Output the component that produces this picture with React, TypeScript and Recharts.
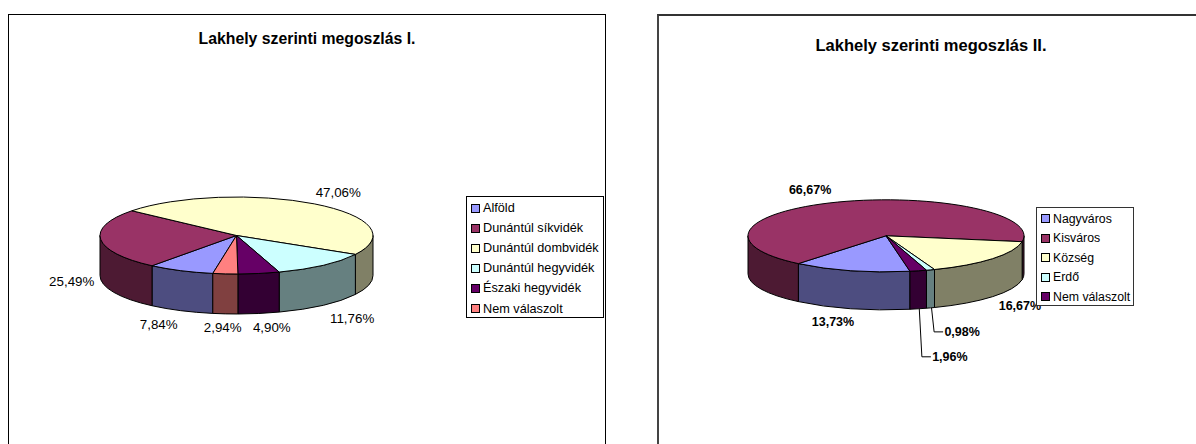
import { PieChart, Pie, Legend } from "recharts";

const namesI = ["Alföld", "Dunántúl síkvidék", "Dunántúl dombvidék", "Dunántúl hegyvidék", "Északi hegyvidék", "Nem válaszolt"];
const valuesI = [7.84, 25.49, 47.06, 11.76, 4.9, 2.94];
const coloursI = ["#9999FF", "#993366", "#FFFFCC", "#CCFFFF", "#660066", "#FF8080"];

const namesII = ["Nagyváros", "Kisváros", "Község", "Erdő", "Nem válaszolt"];
const valuesII = [13.73, 66.67, 16.67, 0.98, 1.96];
const coloursII = ["#9999FF", "#993366", "#FFFFCC", "#CCFFFF", "#660066"];

// label offsets from the rim point of each slice
const labelShiftI = [[-22, 54], [-29, 42.5], [24, -11], [29, 53], [13, 54.5], [-2.6, 54]];
const labelShiftII = [[-18, 51.4], [-27.4, -12], [27.3, 47.3], [31.6, 62], [31.6, 86]];
const leadersII = [false, false, false, true, true];

const FONT = "'Liberation Sans', Arial, sans-serif";
const RAD = Math.PI / 180;
const NO_MARGIN = { top: 0, right: 0, bottom: 0, left: 0 };

const darken = (hex: string) => {
  const n = parseInt(hex.slice(1), 16);
  const half = (v: number) => Math.round(v / 2);
  return `rgb(${half((n >> 16) & 255)},${half((n >> 8) & 255)},${half(n & 255)})`;
};

// the pie hands us circular angles, these squash them to the tilted ellipse
const rim = (cx: number, cy: number, rx: number, ry: number, a: number) => ({
  x: cx + rx * Math.cos(a * RAD),
  y: cy - ry * Math.sin(a * RAD),
});

const topShape = (ry: number) => (p: any) => {
  const rx = p.outerRadius;
  const s = rim(p.cx, p.cy, rx, ry, p.startAngle);
  const e = rim(p.cx, p.cy, rx, ry, p.endAngle);
  const large = Math.abs(p.startAngle - p.endAngle) > 180 ? 1 : 0;
  return (
    <path
      d={`M${p.cx},${p.cy}L${s.x},${s.y}A${rx},${ry} 0 ${large} 1 ${e.x},${e.y}Z`}
      fill={p.fill}
      stroke="#000"
      strokeWidth={1}
    />
  );
};

const wallShape = (ry: number, depth: number) => (p: any) => {
  const rx = p.outerRadius;
  const parts: string[] = [];
  // only the front half of the rim is visible
  for (const [hi, lo] of [[0, -180], [-360, -540]]) {
    const from = Math.min(p.startAngle, hi);
    const to = Math.max(p.endAngle, lo);
    if (from <= to) continue;
    const s = rim(p.cx, p.cy, rx, ry, from);
    const e = rim(p.cx, p.cy, rx, ry, to);
    parts.push(
      `M${s.x},${s.y}A${rx},${ry} 0 0 1 ${e.x},${e.y}L${e.x},${e.y + depth}A${rx},${ry} 0 0 0 ${s.x},${s.y + depth}Z`
    );
  }
  return <path d={parts.join("")} fill={darken(p.fill)} stroke="#000" strokeWidth={1} />;
};

const percentLabel = (ry: number, depth: number, shifts: number[][], weight: string, size: number, leaders?: boolean[]) => (p: any) => {
  const a = rim(p.cx, p.cy, p.outerRadius, ry, p.midAngle);
  const [dx, dy] = shifts[p.index];
  const x = a.x + dx;
  const y = a.y + dy;
  const text = p.value.toFixed(2).replace(".", ",") + "%";
  return (
    <g>
      {leaders && leaders[p.index] && (
        <polyline
          points={`${a.x + 1},${a.y + depth} ${x - 28},${y} ${x - 19},${y}`}
          fill="none"
          stroke="#000"
          strokeWidth={1}
        />
      )}
      <text x={x} y={y} textAnchor="middle" dominantBaseline="central" fontFamily={FONT} fontSize={size} fontWeight={weight} fill="#000">
        {text}
      </text>
    </g>
  );
};

const legendBox = (names: string[], fontSize: number, rowHeight: number, border: string) => (props: any) => {
  // the two pie layers both report their slices, keep one of each in data order
  const rows = names.map((n) => props.payload.find((item: any) => item.value === n)).filter(Boolean);
  return (
    <div style={{ border, background: "#fff", paddingTop: 1, boxSizing: "border-box", height: "100%", fontFamily: FONT, fontSize, color: "#000" }}>
      {rows.map((item: any) => (
        <div key={item.value} style={{ height: rowHeight, display: "flex", alignItems: "center", whiteSpace: "nowrap", paddingLeft: 4 }}>
          <span style={{ width: 9, height: 9, boxSizing: "border-box", border: "1px solid #000", background: item.color, marginRight: 3, flex: "none" }} />
          {item.value}
        </div>
      ))}
    </div>
  );
};

const build = (names: string[], values: number[], colours: string[]) =>
  names.map((name, i) => ({ name, value: values[i], fill: colours[i] }));

const dataI = build(namesI, valuesI, coloursI);
const dataII = build(namesII, valuesII, coloursII);

export default function App() {
  return (
    <div style={{ position: "absolute", left: 0, top: 0, width: 1196, height: 444, background: "#fff", overflow: "hidden" }}>
      <div style={{ position: "absolute", left: 8, top: 14, width: 596, height: 460, border: "1px solid #000" }} />
      <div style={{ position: "absolute", left: 657, top: 14, width: 600, height: 460, borderTop: "2px solid #333", borderLeft: "2px solid #444" }} />

      <div style={{ position: "absolute", left: 0, top: 0 }}>
        <PieChart width={640} height={444} margin={NO_MARGIN}>
          <text x={307} y={38} textAnchor="middle" dominantBaseline="central" fontFamily={FONT} fontSize={15.8} fontWeight="bold">
            Lakhely szerinti megoszlás I.
          </text>
          <Pie data={dataI} dataKey="value" nameKey="name" cx={236.5} cy={235.5} outerRadius={136.5} startAngle={-100} endAngle={-460} legendType="none" shape={wallShape(38.5, 40)} isAnimationActive={false} />
          <Pie data={dataI} dataKey="value" nameKey="name" cx={236.5} cy={235.5} outerRadius={136.5} startAngle={-100} endAngle={-460} shape={topShape(38.5)} label={percentLabel(38.5, 40, labelShiftI, "normal", 13.33)} labelLine={false} isAnimationActive={false} />
          <Legend
            layout="vertical"
            content={legendBox(namesI, 12.7, 20.1, "1px solid #000")}
            wrapperStyle={{ position: "absolute", left: 466, top: 196, width: 138, height: 122, bottom: "auto", right: "auto" }}
          />
        </PieChart>
      </div>

      <div style={{ position: "absolute", left: 640, top: 0 }}>
        <PieChart width={556} height={444} margin={NO_MARGIN}>
          <text x={291} y={45} textAnchor="middle" dominantBaseline="central" fontFamily={FONT} fontSize={16.5} fontWeight="bold">
            Lakhely szerinti megoszlás II.
          </text>
          <Pie data={dataII} dataKey="value" nameKey="name" cx={246} cy={235.8} outerRadius={138} startAngle={-80} endAngle={-440} legendType="none" shape={wallShape(36, 38)} isAnimationActive={false} />
          <Pie data={dataII} dataKey="value" nameKey="name" cx={246} cy={235.8} outerRadius={138} startAngle={-80} endAngle={-440} shape={topShape(36)} label={percentLabel(36, 38, labelShiftII, "bold", 12.5, leadersII)} labelLine={false} isAnimationActive={false} />
          <Legend
            layout="vertical"
            content={legendBox(namesII, 12.3, 19.5, "1px solid #333")}
            wrapperStyle={{ position: "absolute", left: 396, top: 207, width: 98, height: 99, bottom: "auto", right: "auto" }}
          />
        </PieChart>
      </div>
    </div>
  );
}
